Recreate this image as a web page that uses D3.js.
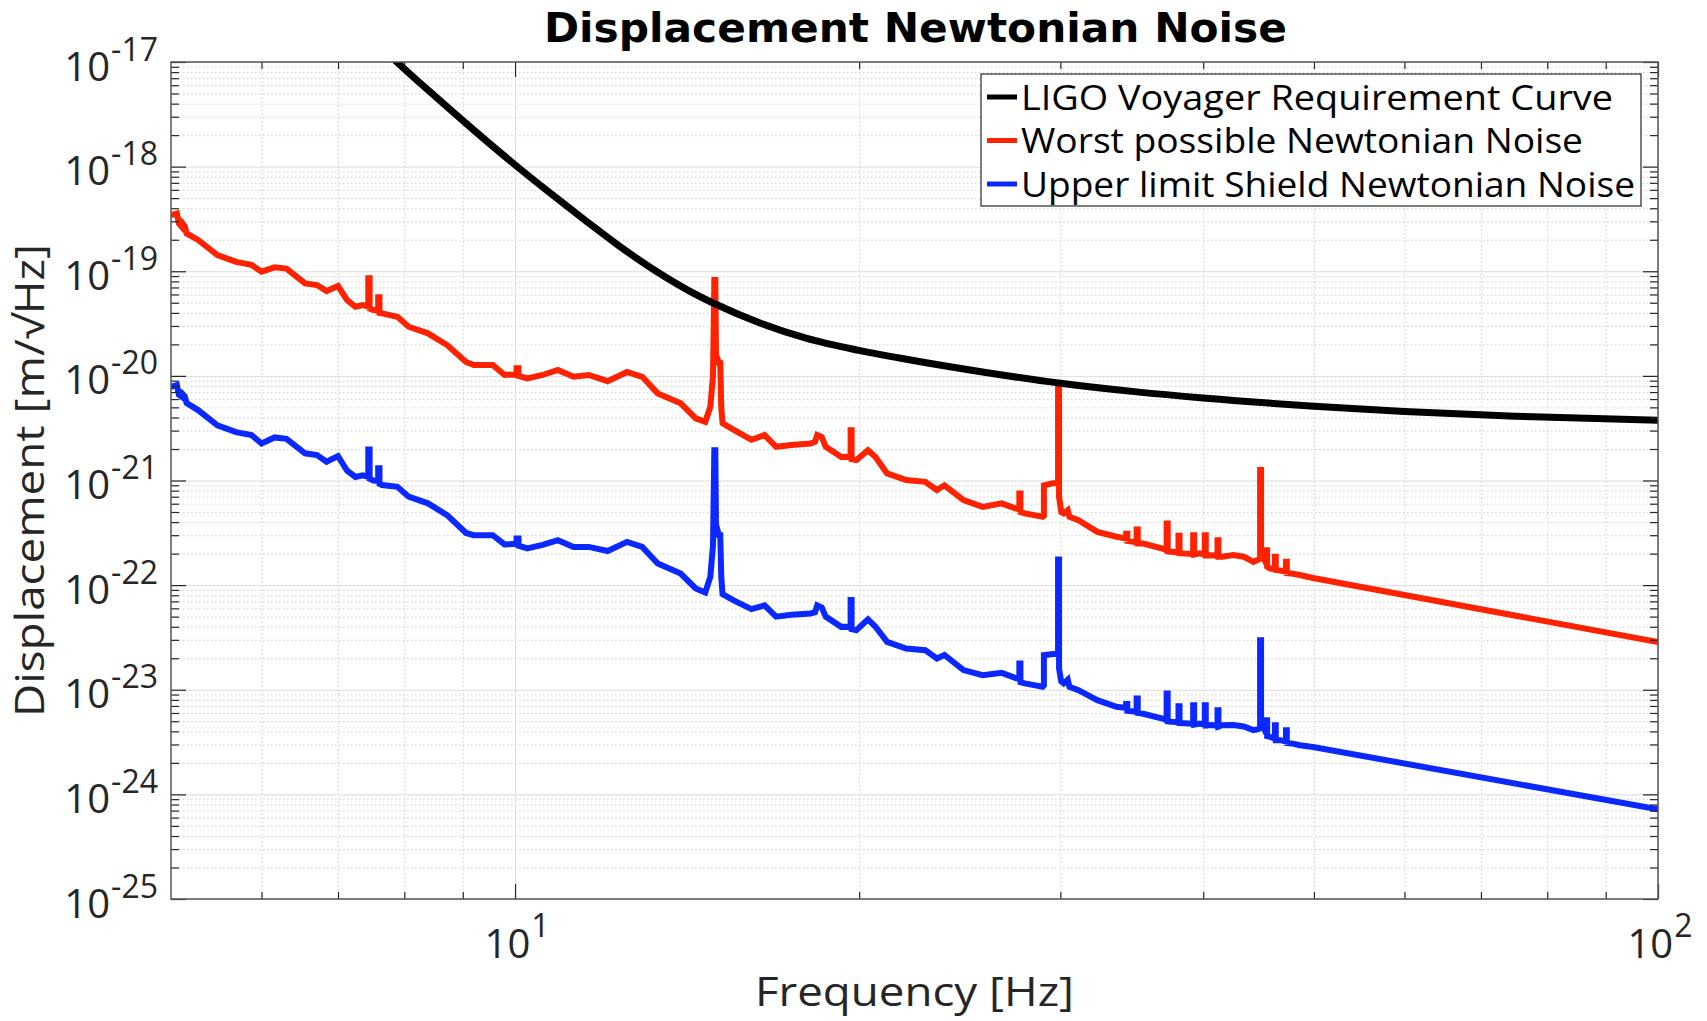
<!DOCTYPE html>
<html>
<head>
<meta charset="utf-8">
<script src="https://cdn.jsdelivr.net/npm/d3@7"></script>
<style>
  html, body { margin: 0; padding: 0; background: #fff; }
  svg { display: block; }
</style>
</head>
<body>
<svg id="chart" width="1707" height="1021"></svg>
<script>
// --- data (Hz, m/sqrt(Hz)) ---
const reqFreq = [7.7, 7.88, 8.5, 9.2, 10, 10.7, 11.5, 12.33, 13.3, 14.2, 15, 16.4, 18, 20, 22.5, 25.65, 30, 35, 40, 50, 60, 75, 100];
const reqDisp = [1.27e-17, 1e-17, 4.76e-18, 2.24e-18, 1.04e-18, 5.74e-19, 3.11e-19, 1.75e-19, 9.94e-20, 6.5e-20, 4.81e-20, 3.19e-20, 2.28e-20, 1.75e-20, 1.38e-20, 1.09e-20, 8.5e-21, 7.03e-21, 6.15e-21, 5.13e-21, 4.57e-21, 4.12e-21, 3.77e-21];

const worstFreq = [
  5.00, 5.06, 5.08, 5.11, 5.12, 5.14, 5.16, 5.28, 5.49, 5.70, 5.88, 6.00, 6.16, 6.31, 6.55, 6.71, 6.84, 7.00, 7.13, 7.25, 7.36,
  7.44, 7.44, 7.46, 7.46, 7.52, 7.59, 7.59, 7.61, 7.61, 7.65, 7.89, 8.07, 8.39, 8.72, 9.06, 9.20, 9.56, 9.79,
  10.03, 10.03, 10.07, 10.07, 10.25, 10.57, 10.90, 11.25, 11.60, 12.05, 12.53, 12.92, 13.33, 13.96, 14.39, 14.67,
  14.82, 14.90, 14.94, 14.97, 14.99, 15.08, 15.12, 15.15, 15.19, 15.55, 16.10, 16.53, 16.92, 17.45, 18.13,
  18.30, 18.38, 18.55, 18.70, 19.29, 19.66, 19.66, 19.70, 19.70, 19.89, 20.36, 20.67, 21.16, 21.99, 22.85, 23.39, 23.75,
  24.68, 25.65, 26.66, 27.39, 27.62, 27.62, 27.68, 27.68, 27.92, 28.95, 29.02, 29.02, 29.55, 29.86, 29.86, 29.92, 29.92,
  30.05, 30.20, 30.45, 30.55, 31.11, 32.32, 33.59, 34.25, 34.25, 34.33, 34.33, 34.78, 34.98, 34.98, 35.06, 35.06, 35.45,
  36.85, 37.16, 37.16, 37.24, 37.24, 37.56, 38.06, 38.06, 38.14, 38.14, 38.60, 39.20, 39.20, 39.28, 39.28, 39.74,
  40.13, 40.13, 40.21, 40.21, 40.70, 41.17, 41.17, 41.25, 41.25, 41.56, 42.50, 43.40, 44.25, 44.70, 44.86, 44.86, 44.95, 44.95,
  45.44, 45.44, 45.50, 45.50, 45.76, 46.22, 46.22, 46.30, 46.30, 46.70, 47.26, 47.26, 47.34, 47.34, 47.80, 48.60, 49.90, 100
];
const worstDisp = [
  3.44e-19, 3.57e-19, 2.87e-19, 2.66e-19, 2.85e-19, 2.7e-19, 2.3e-19, 1.99e-19, 1.43e-19, 1.23e-19, 1.15e-19, 9.9e-20, 1.09e-19, 1.06e-19, 7.66e-20, 7.38e-20, 6.47e-20, 7.22e-20, 5.3e-20, 4.58e-20, 4.75e-20,
  4.6e-20, 8.55e-20, 8.55e-20, 4.4e-20, 4.26e-20, 4.2e-20, 5.63e-20, 5.63e-20, 4.0e-20, 3.96e-20, 3.67e-20, 2.95e-20, 2.55e-20, 1.97e-20, 1.36e-20, 1.27e-20, 1.27e-20, 1.02e-20,
  1.04e-20, 1.18e-20, 1.18e-20, 1.0e-20, 9.46e-21, 1.02e-20, 1.14e-20, 9.8e-21, 1.02e-20, 8.9e-21, 1.09e-20, 9.8e-21, 6.8e-21, 5.46e-21, 3.93e-21, 3.64e-21,
  5.06e-21, 1.0e-20, 8.24e-20, 8.24e-20, 1.6e-20, 1.32e-20, 1.32e-20, 5.0e-21, 3.52e-21, 3.03e-21, 2.45e-21, 2.72e-21, 2.1e-21, 2.18e-21, 2.26e-21,
  2.35e-21, 2.72e-21, 2.6e-21, 2.1e-21, 1.68e-21, 1.7e-21, 3.03e-21, 3.03e-21, 1.6e-21, 1.57e-21, 1.95e-21, 1.68e-21, 1.17e-21, 1.01e-21, 9.7e-22, 8.1e-22, 9.0e-22,
  6.5e-22, 5.6e-22, 6.04e-22, 5.41e-22, 5.3e-22, 7.53e-22, 7.53e-22, 5.0e-22, 4.85e-22, 4.5e-22, 4.6e-22, 9.0e-22, 9.4e-22, 9.4e-22, 7.86e-21, 7.86e-21, 7.0e-22,
  5.0e-22, 4.85e-22, 5.2e-22, 4.5e-22, 4.18e-22, 3.23e-22, 2.9e-22, 2.8e-22, 3.1e-22, 3.1e-22, 2.65e-22, 2.59e-22, 2.55e-22, 3.4e-22, 3.4e-22, 2.5e-22, 2.5e-22,
  2.24e-22, 2.15e-22, 3.89e-22, 3.89e-22, 2.1e-22, 2.08e-22, 2.05e-22, 2.96e-22, 2.96e-22, 2.02e-22, 2.0e-22, 1.98e-22, 3.0e-22, 3.0e-22, 1.96e-22, 2.01e-22,
  1.95e-22, 3.0e-22, 3.0e-22, 1.92e-22, 1.93e-22, 1.9e-22, 2.69e-22, 2.69e-22, 1.87e-22, 1.87e-22, 1.94e-22, 1.87e-22, 1.67e-22, 1.75e-22, 1.8e-22, 1.26e-21, 1.26e-21, 2.0e-22,
  1.6e-22, 2.16e-22, 2.16e-22, 1.5e-22, 1.44e-22, 1.42e-22, 1.87e-22, 1.87e-22, 1.4e-22, 1.38e-22, 1.35e-22, 1.67e-22, 1.67e-22, 1.3e-22, 1.29e-22, 1.25e-22, 1.17e-22, 2.85e-23
];

const shieldFreq = worstFreq.slice();
const shieldDisp = [
  7.87e-21, 8.17e-21, 6.6e-21, 6.3e-21, 6.7e-21, 6.4e-21, 5.5e-21, 4.71e-21, 3.36e-21, 2.9e-21, 2.72e-21, 2.26e-21, 2.58e-21, 2.5e-21, 1.82e-21, 1.75e-21, 1.51e-21, 1.71e-21, 1.24e-21, 1.08e-21, 1.12e-21,
  1.08e-21, 1.98e-21, 1.98e-21, 1.04e-21, 1.0e-21, 9.9e-22, 1.31e-21, 1.31e-21, 9.3e-22, 9.04e-22, 8.7e-22, 7.0e-22, 6.05e-22, 4.67e-22, 3.15e-22, 3.0e-22, 3.0e-22, 2.45e-22,
  2.48e-22, 2.79e-22, 2.79e-22, 2.38e-22, 2.24e-22, 2.42e-22, 2.69e-22, 2.32e-22, 2.32e-22, 2.12e-22, 2.59e-22, 2.32e-22, 1.61e-22, 1.29e-22, 9.3e-23, 8.5e-23,
  1.2e-22, 2.4e-22, 1.95e-21, 1.95e-21, 3.8e-22, 3.0e-22, 3.0e-22, 1.2e-22, 8.2e-23, 7.1e-23, 5.9e-23, 6.4e-23, 5.0e-23, 5.2e-23, 5.36e-23,
  5.5e-23, 6.4e-23, 6.1e-23, 5.0e-23, 3.99e-23, 4.0e-23, 7.19e-23, 7.19e-23, 3.8e-23, 3.7e-23, 4.7e-23, 4.0e-23, 2.87e-23, 2.48e-23, 2.39e-23, 1.99e-23, 2.15e-23,
  1.54e-23, 1.38e-23, 1.45e-23, 1.3e-23, 1.27e-23, 1.78e-23, 1.78e-23, 1.18e-23, 1.15e-23, 1.07e-23, 1.1e-23, 2.14e-23, 2.2e-23, 2.2e-23, 1.76e-22, 1.76e-22, 1.6e-23,
  1.2e-23, 1.15e-23, 1.25e-23, 1.07e-23, 9.9e-24, 7.96e-24, 6.87e-24, 6.7e-24, 7.3e-24, 7.3e-24, 6.3e-24, 6.2e-24, 6.1e-24, 8.26e-24, 8.26e-24, 6.0e-24, 5.9e-24,
  5.3e-24, 5.1e-24, 9.2e-24, 9.2e-24, 5.0e-24, 4.95e-24, 4.9e-24, 6.97e-24, 6.97e-24, 4.8e-24, 4.78e-24, 4.7e-24, 7.1e-24, 7.1e-24, 4.65e-24, 4.76e-24,
  4.6e-24, 7.1e-24, 7.1e-24, 4.55e-24, 4.6e-24, 4.5e-24, 6.38e-24, 6.38e-24, 4.45e-24, 4.58e-24, 4.6e-24, 4.45e-24, 4.11e-24, 4.2e-24, 4.3e-24, 2.98e-23, 2.98e-23, 4.8e-24,
  3.8e-24, 5.1e-24, 5.1e-24, 3.6e-24, 3.55e-24, 3.4e-24, 4.58e-24, 4.58e-24, 3.3e-24, 3.3e-24, 3.2e-24, 4.11e-24, 4.11e-24, 3.1e-24, 3.07e-24, 2.95e-24, 2.84e-24, 7.2e-25
];

const seriesNames = ["LIGO Voyager Requirement Curve", "Worst possible Newtonian Noise", "Upper limit Shield Newtonian Noise"];
const xTickExp = [1, 2];
const yTickExp = [-25, -24, -23, -22, -21, -20, -19, -18, -17];

// --- styles ---
const seriesColors = ["#000000", "#ff2200", "#0a28ff"];
const seriesWidths = [7, 6, 6];
const legendTextWidths = [592, 562, 614];
const labelFont = "'Open Sans', 'Noto Sans', sans-serif";
const textColor = "#262626";

const W = 1707, H = 1021;
const plotLeft = 171, plotRight = 1658, plotTop = 62, plotBottom = 899;

const x = d3.scaleLog().domain([5, 100]).range([plotLeft, plotRight]);
const y = d3.scaleLog().domain([1e-25, 1e-17]).range([plotBottom, plotTop]);

const xMajor = xTickExp.map((e) => Math.pow(10, e));
const yMajor = yTickExp.map((e) => Math.pow(10, e));
const xMinor = [];
for (let e = 0; e < 2; e++) for (let m = 2; m <= 9; m++) { const v = m * Math.pow(10, e); if (v > 5 && v < 100) xMinor.push(v); }
const yMinor = [];
for (let e = -25; e < -17; e++) for (let m = 2; m <= 9; m++) yMinor.push(m * Math.pow(10, e));

const svg = d3.select("#chart");
svg.append("rect").attr("width", W).attr("height", H).attr("fill", "#fff");

// grid
function styleGrid(g, color, dash) {
  g.select(".domain").remove();
  g.selectAll(".tick line").attr("stroke", color).attr("stroke-width", 1).attr("stroke-dasharray", dash);
}
const grid = svg.append("g");
grid.append("g").attr("transform", `translate(0,${plotBottom})`)
  .call(d3.axisBottom(x).tickValues(xMinor).tickSize(-(plotBottom - plotTop)).tickFormat(""))
  .call((g) => styleGrid(g, "#cfcfcf", "1.5,2.5"));
grid.append("g").attr("transform", `translate(${plotLeft},0)`)
  .call(d3.axisLeft(y).tickValues(yMinor).tickSize(-(plotRight - plotLeft)).tickFormat(""))
  .call((g) => styleGrid(g, "#cfcfcf", "1.5,2.5"));
grid.append("g").attr("transform", `translate(0,${plotBottom})`)
  .call(d3.axisBottom(x).tickValues(xMajor).tickSize(-(plotBottom - plotTop)).tickFormat(""))
  .call((g) => styleGrid(g, "#dcdcdc", null));
grid.append("g").attr("transform", `translate(${plotLeft},0)`)
  .call(d3.axisLeft(y).tickValues(yMajor).tickSize(-(plotRight - plotLeft)).tickFormat(""))
  .call((g) => styleGrid(g, "#dcdcdc", null));

// curves
svg.append("clipPath").attr("id", "plotclip")
  .append("rect").attr("x", plotLeft).attr("y", plotTop).attr("width", plotRight - plotLeft).attr("height", plotBottom - plotTop);

const seriesData = [
  d3.zip(reqFreq, reqDisp),
  d3.zip(worstFreq, worstDisp),
  d3.zip(shieldFreq, shieldDisp),
];
const lineSmooth = d3.line().x((d) => x(d[0])).y((d) => y(d[1])).curve(d3.curveMonotoneX);
const lineRaw = d3.line().x((d) => x(d[0])).y((d) => y(d[1]));

const curves = svg.append("g").attr("clip-path", "url(#plotclip)");
[2, 1, 0].forEach((i) => {
  curves.append("path")
    .datum(seriesData[i])
    .attr("d", i === 0 ? lineSmooth : lineRaw)
    .attr("fill", "none")
    .attr("stroke", seriesColors[i])
    .attr("stroke-width", seriesWidths[i])
    .attr("stroke-linejoin", i === 0 ? "round" : "miter")
    .attr("stroke-linecap", "butt");
});

// ticks (inside) and box
function styleTicks(g) {
  g.select(".domain").remove();
  g.selectAll(".tick line").attr("stroke", textColor).attr("stroke-width", 1.2);
}
const axes = svg.append("g");
[[xMinor, 7], [xMajor, 15]].forEach(([vals, len]) => {
  axes.append("g").attr("transform", `translate(0,${plotBottom})`)
    .call(d3.axisBottom(x).tickValues(vals).tickSize(-len).tickFormat("")).call(styleTicks);
  axes.append("g").attr("transform", `translate(0,${plotTop})`)
    .call(d3.axisTop(x).tickValues(vals).tickSize(-len).tickFormat("")).call(styleTicks);
});
[[yMinor, 8], [yMajor, 15]].forEach(([vals, len]) => {
  axes.append("g").attr("transform", `translate(${plotLeft},0)`)
    .call(d3.axisLeft(y).tickValues(vals).tickSize(-len).tickFormat("")).call(styleTicks);
  axes.append("g").attr("transform", `translate(${plotRight},0)`)
    .call(d3.axisRight(y).tickValues(vals).tickSize(-len).tickFormat("")).call(styleTicks);
});
axes.append("rect")
  .attr("x", plotLeft).attr("y", plotTop).attr("width", plotRight - plotLeft).attr("height", plotBottom - plotTop)
  .attr("fill", "none").attr("stroke", "#555").attr("stroke-width", 1.5);

// tick labels: 10^n
function powerLabel(sel, exps, base, sup, supShift) {
  sel.selectAll("text").data(exps).join("text")
    .attr("fill", textColor)
    .style("font-family", labelFont)
    .each(function (e) {
      const t = d3.select(this);
      t.append("tspan").attr("font-size", base).text("10");
      t.append("tspan").attr("font-size", sup).attr("dx", 1).attr("dy", supShift).text(String(e));
    });
}
const yLab = svg.append("g").attr("text-anchor", "end");
powerLabel(yLab, yTickExp, 40, 32, -20);
yLab.selectAll("text").attr("x", 158).attr("y", (e) => y(Math.pow(10, e)) + 18.5);

const xLab = svg.append("g").attr("text-anchor", "middle");
powerLabel(xLab, xTickExp, 40, 32, -21);
xLab.selectAll("text").attr("x", (e) => x(Math.pow(10, e)) + 2).attr("y", 958);

// axis titles
svg.append("text")
  .attr("x", (plotLeft + plotRight) / 2).attr("y", 1006)
  .attr("text-anchor", "middle")
  .attr("fill", textColor)
  .attr("textLength", 319).attr("lengthAdjust", "spacingAndGlyphs")
  .style("font-family", labelFont).style("font-size", "40px")
  .text("Frequency [Hz]");

svg.append("text")
  .attr("transform", `translate(44,${(plotTop + plotBottom) / 2}) rotate(-90)`)
  .attr("text-anchor", "middle")
  .attr("fill", textColor)
  .attr("textLength", 473).attr("lengthAdjust", "spacingAndGlyphs")
  .style("font-family", labelFont).style("font-size", "40px")
  .text("Displacement [m/\u221AHz]");

// title
svg.append("text")
  .attr("x", (plotLeft + plotRight) / 2 + 1).attr("y", 42)
  .attr("text-anchor", "middle")
  .attr("fill", "#000")
  .attr("textLength", 743).attr("lengthAdjust", "spacingAndGlyphs")
  .style("font-family", "'DejaVu Sans', sans-serif").style("font-weight", "bold").style("font-size", "41px")
  .text("Displacement Newtonian Noise");

// legend
const leg = svg.append("g");
leg.append("rect")
  .attr("x", 981).attr("y", 74).attr("width", 660).attr("height", 132)
  .attr("fill", "#fff").attr("stroke", textColor).attr("stroke-width", 1.2);
const rows = leg.selectAll("g.row").data(seriesNames).join("g").attr("class", "row")
  .attr("transform", (d, i) => `translate(0,${97 + i * 43.5})`);
rows.append("line")
  .attr("x1", 987).attr("x2", 1017).attr("y1", 0).attr("y2", 0)
  .attr("stroke", (d, i) => seriesColors[i]).attr("stroke-width", 5);
rows.append("text")
  .attr("x", 1021).attr("y", 12.5)
  .attr("fill", "#000")
  .attr("textLength", (d, i) => legendTextWidths[i]).attr("lengthAdjust", "spacingAndGlyphs")
  .style("font-family", labelFont).style("font-size", "35px")
  .text((d) => d);
</script>
</body>
</html>
